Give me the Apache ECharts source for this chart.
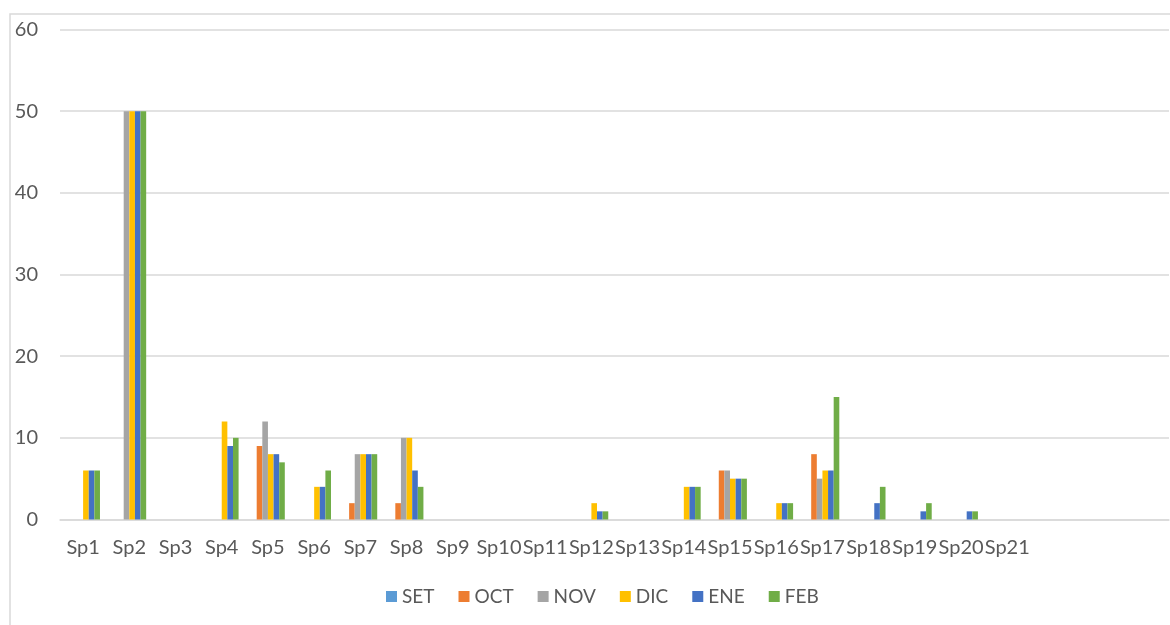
<!DOCTYPE html>
<html>
<head>
<meta charset="utf-8">
<script src="https://cdn.jsdelivr.net/npm/echarts@6/dist/echarts.min.js"></script>
<style>
  html, body { margin: 0; padding: 0; background: #ffffff; }
  #chart { width: 1170px; height: 625px; }
</style>
</head>
<body>
<div id="chart"></div>
<script>
// Species on the x axis (three trailing empty slots keep the axis width)
const categories = ['Sp1','Sp2','Sp3','Sp4','Sp5','Sp6','Sp7','Sp8','Sp9','Sp10','Sp11',
  'Sp12','Sp13','Sp14','Sp15','Sp16','Sp17','Sp18','Sp19','Sp20','Sp21','','',''];

// Monthly counts per species
const SET = [0,0,0,0,0,0,0,0,0,0,0,0,0,0,0,0,0,0,0,0,0,0,0,0];
const OCT = [0,0,0,0,9,0,2,2,0,0,0,0,0,0,6,0,8,0,0,0,0,0,0,0];
const NOV = [0,50,0,0,12,0,8,10,0,0,0,0,0,0,6,0,5,0,0,0,0,0,0,0];
const DIC = [6,50,0,12,8,4,8,10,0,0,0,2,0,4,5,2,6,0,0,0,0,0,0,0];
const ENE = [6,50,0,9,8,4,8,6,0,0,0,1,0,4,5,2,6,2,1,1,0,0,0,0];
const FEB = [6,50,0,10,7,6,8,4,0,0,0,1,0,4,5,2,15,4,2,1,0,0,0,0];

const seriesNames = ['SET','OCT','NOV','DIC','ENE','FEB'];
const seriesData = [SET, OCT, NOV, DIC, ENE, FEB];
const colors = ['#5B9BD5','#ED7D31','#A5A5A5','#FFC000','#4472C4','#70AD47'];

const yMin = 0, yMax = 60, yStep = 10;

const textColor = '#595959';
const lineColor = '#d9d9d9';
const fontFamily = 'Lato, "Open Sans", sans-serif';

const chart = echarts.init(document.getElementById('chart'), null, { renderer: 'canvas' });

chart.setOption({
  animation: false,
  color: colors,
  textStyle: { fontFamily: fontFamily },
  graphic: [{
    type: 'rect',
    z: -10,
    shape: { x: 10, y: 14, width: 1200, height: 700 },
    style: { fill: 'none', stroke: lineColor, lineWidth: 1.5 }
  }],
  grid: { left: 60, right: 1, top: 29.5, bottom: 105.5, containLabel: false },
  legend: {
    data: seriesNames,
    left: 386,
    top: 587,
    padding: 0,
    icon: 'rect',
    itemWidth: 11,
    itemHeight: 11,
    itemGap: 24,
    textStyle: { color: textColor, fontSize: 19, fontFamily: fontFamily }
  },
  xAxis: {
    type: 'category',
    data: categories,
    axisLine: { show: true, lineStyle: { color: lineColor, width: 1.5 } },
    axisTick: { show: false },
    axisLabel: { interval: 0, color: textColor, fontSize: 20, margin: 18, fontFamily: fontFamily }
  },
  yAxis: {
    type: 'value',
    min: yMin,
    max: yMax,
    interval: yStep,
    axisLine: { show: false },
    axisTick: { show: false },
    splitLine: { lineStyle: { color: lineColor, width: 1.5 } },
    axisLabel: { color: textColor, fontSize: 20, margin: 22, fontFamily: fontFamily }
  },
  series: seriesNames.map((name, i) => ({
    name: name,
    type: 'bar',
    data: seriesData[i],
    barGap: '0%',
    barCategoryGap: '27%',
    itemStyle: { color: colors[i] }
  }))
});
</script>
</body>
</html>
